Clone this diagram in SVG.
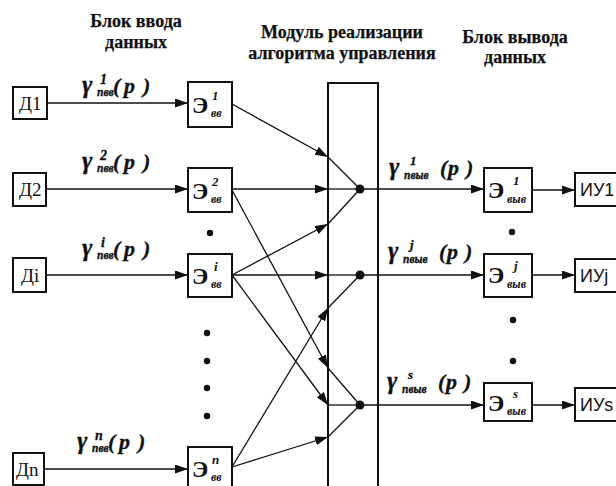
<svg xmlns="http://www.w3.org/2000/svg" width="616" height="486" viewBox="0 0 616 486">
<style>
  .box { fill: #fff; stroke: #111; stroke-width: 2; }
  .mod { fill: none; stroke: #111; stroke-width: 2; }
  .con { fill: none; stroke: #111; stroke-width: 1.3; }
  .arr { marker-end: url(#ah); }
  .jd { fill: #111; }
  .dot { fill: #111; }
</style>
<defs>
  <marker id="ah" markerUnits="userSpaceOnUse" markerWidth="13" markerHeight="9" refX="13" refY="4.5" orient="auto">
    <path d="M0,0 L13,4.5 L0,9 z" fill="#111"/>
  </marker>
</defs>

<g id="titles" font-family="Liberation Serif, serif" font-weight="bold" font-size="18" fill="#111" stroke="#111" stroke-width="0.25" text-anchor="middle">
  <text x="136" y="27">Блок ввода</text>
  <text x="136" y="48">данных</text>
  <text x="342" y="38">Модуль реализации</text>
  <text x="342" y="59">алгоритма управления</text>
  <text x="515" y="43">Блок вывода</text>
  <text x="515" y="63">данных</text>
</g>

<g id="connectors">
  <path class="con arr" d="M47,103 H188"/>
  <path class="con arr" d="M46,189 H188"/>
  <path class="con arr" d="M46,275 H188"/>
  <path class="con arr" d="M44,469 H188"/>

  <path class="con arr" d="M232,104 L328,157"/>
  <path class="con" d="M328,157 L360,189"/>
  <path class="con arr" d="M232,189 H328"/>
  <path class="con" d="M328,189 H360"/>
  <path class="con arr" d="M232,190 L328,368"/>
  <path class="con" d="M328,368 L360,405"/>
  <path class="con arr" d="M232,275 L328,224"/>
  <path class="con" d="M328,224 L360,189"/>
  <path class="con arr" d="M232,275 H328"/>
  <path class="con" d="M328,275 H360"/>
  <path class="con arr" d="M232,275 L328,405"/>
  <path class="con" d="M328,405 H360"/>
  <path class="con arr" d="M232,467 L328,308"/>
  <path class="con" d="M328,308 L360,275"/>
  <path class="con arr" d="M232,467 L328,437"/>
  <path class="con" d="M328,437 L360,405"/>

  <path class="con arr" d="M360,189 H484"/>
  <path class="con arr" d="M360,275 H484"/>
  <path class="con arr" d="M360,405 H484"/>
  <path class="con arr" d="M532,190 H575"/>
  <path class="con arr" d="M532,275 H575"/>
  <path class="con arr" d="M532,405 H575"/>

  <circle class="jd" cx="360" cy="189" r="4.5"/>
  <circle class="jd" cx="360" cy="275" r="4.5"/>
  <circle class="jd" cx="360" cy="405" r="4.5"/>
</g>

<g id="module">
  <rect class="mod" x="328" y="83" width="50" height="420"/>
</g>

<g id="sensors" font-family="Liberation Serif, serif" font-size="19" fill="#111">
  <g id="d1"><rect class="box" x="13" y="87" width="34" height="32"/><text x="19" y="110">Д1</text></g>
  <g id="d2"><rect class="box" x="13" y="173" width="33" height="33"/><text x="19" y="196">Д2</text></g>
  <g id="di"><rect class="box" x="13" y="258" width="33" height="34"/><text x="21" y="282">Дi</text></g>
  <g id="dn"><rect class="box" x="13" y="453" width="31" height="32"/><text x="16" y="476">Дn</text></g>
</g>

<g id="labels" font-family="Liberation Serif, serif" font-weight="bold" font-style="italic" font-size="22" fill="#111" stroke="#111" stroke-width="0.3">
  <text id="lbl-in1" transform="translate(82,93)"><tspan x="0" y="0" font-size="25">γ</tspan><tspan x="18" y="-9" font-size="14">1</tspan><tspan x="15" y="3" font-size="11.5">пвв</tspan><tspan x="31" y="0">(</tspan><tspan x="42" y="0">p</tspan><tspan x="61" y="0">)</tspan></text>
  <text id="lbl-in2" transform="translate(82,169)"><tspan x="0" y="0" font-size="25">γ</tspan><tspan x="18" y="-9" font-size="14">2</tspan><tspan x="15" y="3" font-size="11.5">пвв</tspan><tspan x="31" y="0">(</tspan><tspan x="42" y="0">p</tspan><tspan x="61" y="0">)</tspan></text>
  <text id="lbl-ini" transform="translate(82,256)"><tspan x="0" y="0" font-size="25">γ</tspan><tspan x="19" y="-9" font-size="14">i</tspan><tspan x="15" y="3" font-size="11.5">пвв</tspan><tspan x="31" y="0">(</tspan><tspan x="42" y="0">p</tspan><tspan x="61" y="0">)</tspan></text>
  <text id="lbl-inn" transform="translate(77,449)"><tspan x="0" y="0" font-size="25">γ</tspan><tspan x="18" y="-9" font-size="14">n</tspan><tspan x="15" y="3" font-size="11.5">пвв</tspan><tspan x="31" y="0">(</tspan><tspan x="42" y="0">p</tspan><tspan x="61" y="0">)</tspan></text>
  <text id="lbl-out1" transform="translate(389,175)"><tspan x="0" y="0" font-size="25">γ</tspan><tspan x="21" y="-10" font-size="13">1</tspan><tspan x="15" y="4" font-size="11.5">пвыв</tspan><tspan x="51" y="0">(</tspan><tspan x="59" y="0">p</tspan><tspan x="77" y="0">)</tspan></text>
  <text id="lbl-outj" transform="translate(388,259)"><tspan x="0" y="0" font-size="25">γ</tspan><tspan x="22" y="-10" font-size="13">j</tspan><tspan x="15" y="4" font-size="11.5">пвыв</tspan><tspan x="51" y="0">(</tspan><tspan x="59" y="0">p</tspan><tspan x="77" y="0">)</tspan></text>
  <text id="lbl-outs" transform="translate(387,389)"><tspan x="0" y="0" font-size="25">γ</tspan><tspan x="21" y="-10" font-size="13">s</tspan><tspan x="15" y="4" font-size="11.5">пвыв</tspan><tspan x="51" y="0">(</tspan><tspan x="59" y="0">p</tspan><tspan x="77" y="0">)</tspan></text>
</g>

<g id="elements" font-family="Liberation Serif, serif" font-weight="bold" font-size="24" fill="#111">
  <g id="e1"><rect class="box" x="188" y="82" width="44" height="45"/><text x="192" y="113">Э<tspan x="212" y="100" font-size="13" font-style="italic">1</tspan><tspan x="211" y="117" font-size="12" font-style="italic">вв</tspan></text></g>
  <g id="e2"><rect class="box" x="188" y="168" width="44" height="44"/><text x="192" y="199">Э<tspan x="212" y="186" font-size="13" font-style="italic">2</tspan><tspan x="211" y="203" font-size="12" font-style="italic">вв</tspan></text></g>
  <g id="ei"><rect class="box" x="188" y="254" width="44" height="43"/><text x="192" y="284">Э<tspan x="214" y="271" font-size="13" font-style="italic">i</tspan><tspan x="211" y="288" font-size="12" font-style="italic">вв</tspan></text></g>
  <g id="en"><rect class="box" x="188" y="447" width="44" height="44"/><text x="192" y="477">Э<tspan x="212" y="464" font-size="13" font-style="italic">n</tspan><tspan x="211" y="481" font-size="12" font-style="italic">вв</tspan></text></g>
  <g id="eo1"><rect class="box" x="484" y="168" width="48" height="44"/><text x="488" y="198">Э<tspan x="513" y="185" font-size="13" font-style="italic">1</tspan><tspan x="507" y="203" font-size="12" font-style="italic">выв</tspan></text></g>
  <g id="eoj"><rect class="box" x="484" y="254" width="48" height="43"/><text x="488" y="283">Э<tspan x="514" y="270" font-size="13" font-style="italic">j</tspan><tspan x="507" y="288" font-size="12" font-style="italic">выв</tspan></text></g>
  <g id="eos"><rect class="box" x="484" y="383" width="48" height="38"/><text x="488" y="411">Э<tspan x="513" y="398" font-size="13" font-style="italic">s</tspan><tspan x="507" y="415" font-size="12" font-style="italic">выв</tspan></text></g>
</g>

<g id="dots">
  <circle class="dot" cx="210" cy="233" r="3.2"/>
  <circle class="dot" cx="207" cy="333" r="3.2"/>
  <circle class="dot" cx="207" cy="361" r="3.2"/>
  <circle class="dot" cx="207" cy="388" r="3.2"/>
  <circle class="dot" cx="207" cy="416" r="3.2"/>
  <circle class="dot" cx="512" cy="232" r="3.2"/>
  <circle class="dot" cx="513" cy="320" r="3.2"/>
  <circle class="dot" cx="513" cy="361" r="3.2"/>
</g>

<g id="actuators" font-family="Liberation Sans, Arial, sans-serif" font-size="18" fill="#111">
  <g id="iu1"><rect class="box" x="575" y="173" width="50" height="33"/><text x="580" y="196">ИУ1</text></g>
  <g id="iuj"><rect class="box" x="575" y="259" width="50" height="33"/><text x="580" y="282">ИУj</text></g>
  <g id="ius"><rect class="box" x="575" y="388" width="50" height="33"/><text x="580" y="411">ИУs</text></g>
</g>
</svg>
